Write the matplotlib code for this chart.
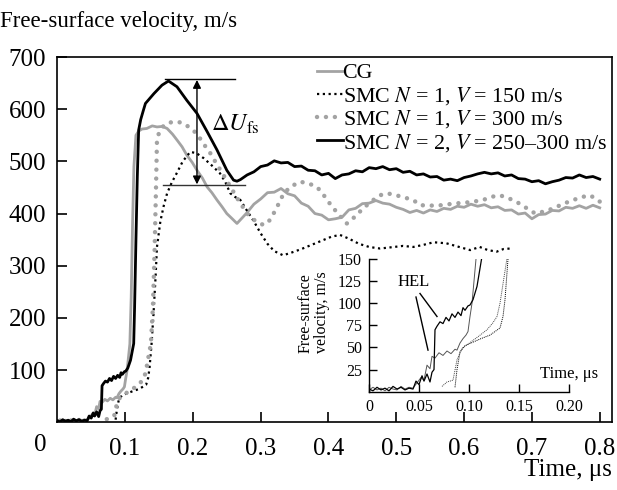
import matplotlib
matplotlib.use('Agg')
from matplotlib import pyplot as plt

plt.rcParams['font.family'] = ['Liberation Serif', 'DejaVu Serif']
plt.rcParams['mathtext.fontset'] = 'stix'

# CG (gray solid)
t_cg = [0, 0.004, 0.008, 0.012, 0.016, 0.02, 0.024, 0.028, 0.032, 0.036, 0.04, 0.044,
        0.048, 0.052, 0.055, 0.058, 0.061, 0.063, 0.066, 0.07, 0.074, 0.078, 0.082, 0.086,
        0.088, 0.091, 0.094, 0.097, 0.099, 0.101, 0.103, 0.105, 0.107, 0.109, 0.111, 0.113,
        0.116, 0.12, 0.125, 0.132, 0.14, 0.147, 0.155, 0.162, 0.17, 0.1765, 0.184, 0.191,
        0.199, 0.206, 0.214, 0.221, 0.228, 0.2355, 0.243, 0.25, 0.258, 0.265, 0.27,
        0.28, 0.29, 0.30, 0.31, 0.32, 0.33, 0.34, 0.35, 0.36, 0.37, 0.38, 0.39, 0.40,
        0.41, 0.42, 0.43, 0.44, 0.45, 0.46, 0.47, 0.48, 0.49, 0.50, 0.51, 0.52, 0.53,
        0.54, 0.55, 0.56, 0.57, 0.58, 0.59, 0.60, 0.61, 0.62, 0.63, 0.64, 0.65, 0.66,
        0.67, 0.68, 0.69, 0.70, 0.71, 0.72, 0.73, 0.74, 0.75, 0.76, 0.77, 0.78, 0.79, 0.80]
v_cg = [2, 5, 2, 4, 1, 5, 3, 2, 6, 3, 5, 4,
        10, 16, 13, 30, 26, 40, 38, 44, 41, 46, 43, 48,
        47, 55, 60, 64, 68, 85, 100, 125, 150, 240, 380, 490,
        550, 558, 562, 563, 568, 566, 567, 563, 552, 541, 528, 512,
        498, 483, 468, 451, 440, 426, 413, 400, 390, 381, 388,
        402, 418, 428, 440, 441, 448, 438, 434, 420, 414, 400, 397, 388,
        390, 393, 407, 410, 419, 420, 425, 420, 418, 412, 408, 402, 406,
        401, 407, 404, 410, 408, 414, 412, 418, 414, 417, 411, 413, 406,
        407, 399, 401, 390, 398, 399, 406, 405, 412, 410, 415, 410, 416, 411]

# SMC N=1, V=150 (black dotted)
t_150 = [0.086, 0.088, 0.091, 0.096, 0.104, 0.112, 0.121, 0.131, 0.134, 0.136, 0.139,
         0.142, 0.145, 0.147, 0.152, 0.157, 0.162, 0.169, 0.176, 0.185, 0.196, 0.205,
         0.216, 0.228, 0.24, 0.248, 0.255, 0.262, 0.27, 0.28, 0.29, 0.30, 0.31, 0.32,
         0.333, 0.345, 0.36, 0.375, 0.39, 0.405, 0.417, 0.43, 0.445, 0.46, 0.476, 0.49,
         0.51, 0.525, 0.54, 0.555, 0.574, 0.59, 0.609, 0.623, 0.635, 0.648, 0.658, 0.668]
v_150 = [5, 25, 45, 52, 56, 60, 64, 72, 85, 104, 150,
         210, 280, 336, 385, 415, 439, 460, 477, 500, 518, 516,
         506, 492, 477, 460, 439, 432, 426, 405, 385, 362, 342, 328,
         320, 325, 332, 340, 348, 356, 359, 352, 342, 336, 333, 335,
         338, 336, 340, 345, 343, 337, 330, 336, 330, 327, 332, 333]

# SMC N=1, V=300 (gray dotted)
t_300 = [0.073, 0.078, 0.084, 0.088, 0.093, 0.098, 0.104, 0.11, 0.118, 0.124, 0.128,
         0.131, 0.134, 0.138, 0.141, 0.1435, 0.1456, 0.147, 0.1496, 0.157, 0.165, 0.172,
         0.18, 0.186, 0.195, 0.206, 0.215, 0.226, 0.235, 0.245, 0.255, 0.267, 0.28,
         0.29, 0.304, 0.312, 0.319, 0.327, 0.334, 0.345, 0.358, 0.37, 0.383, 0.392,
         0.402, 0.415, 0.427, 0.44, 0.451, 0.465, 0.476, 0.486, 0.50, 0.525, 0.535,
         0.56, 0.584, 0.61, 0.628, 0.64, 0.653, 0.668, 0.682, 0.695, 0.705, 0.718,
         0.732, 0.745, 0.761, 0.775, 0.786, 0.80]
v_300 = [6, 11, 13, 36, 49, 53, 58, 63, 70, 78, 85,
         100, 122, 151, 220, 330, 450, 540, 553, 569, 574, 576,
         575, 573, 565, 553, 535, 515, 495, 474, 452, 426, 400,
         388, 378, 385, 400, 420, 439, 452, 461, 458, 451, 437,
         419, 398, 381, 395, 410, 425, 435, 439, 435, 426, 416,
         415, 419, 422, 426, 432, 435, 428, 419, 408, 400, 404,
         410, 418, 426, 432, 435, 423]

# SMC N=2, V=250-300 (black solid)
t_n2 = [0, 0.004, 0.008, 0.012, 0.016, 0.02, 0.024, 0.028, 0.032, 0.036, 0.040, 0.044,
        0.047, 0.050, 0.053, 0.055, 0.058, 0.061, 0.063, 0.065, 0.066, 0.068, 0.071,
        0.074, 0.077, 0.080, 0.083, 0.086, 0.089, 0.092, 0.094, 0.096, 0.099, 0.101,
        0.104, 0.108, 0.1127, 0.114, 0.116, 0.118, 0.120, 0.123, 0.127, 0.13, 0.1426,
        0.1544, 0.164, 0.1765, 0.191, 0.206, 0.221, 0.2355, 0.25, 0.26, 0.265,
        0.27, 0.28, 0.29, 0.30, 0.31, 0.32, 0.33, 0.34, 0.35, 0.36, 0.37, 0.38, 0.39,
        0.40, 0.41, 0.42, 0.43, 0.44, 0.45, 0.46, 0.47, 0.48, 0.49, 0.50, 0.51, 0.52,
        0.53, 0.54, 0.55, 0.56, 0.57, 0.58, 0.59, 0.60, 0.61, 0.62, 0.63, 0.64, 0.65,
        0.66, 0.67, 0.68, 0.69, 0.70, 0.71, 0.72, 0.73, 0.74, 0.75, 0.76, 0.77, 0.78,
        0.79, 0.80]
v_n2 = [3, 1, 5, 2, 4, 1, 6, 3, 5, 2, 4, 3,
        12, 8, 18, 12, 20, 11, 22, 25, 70, 74, 79,
        77, 84, 80, 88, 84, 90, 86, 95, 92, 97, 98,
        104, 119, 151, 220, 350, 470, 560, 580, 598, 611, 630,
        646, 654, 643, 617, 592, 557, 522, 483, 464, 462,
        465, 474, 480, 490, 493, 501, 497, 498, 490, 491, 483, 482, 474,
        477, 467, 474, 476, 482, 480, 488, 486, 490, 484, 486, 479, 481,
        474, 476, 470, 471, 464, 466, 463, 469, 472, 476, 479, 476, 478,
        472, 474, 467, 466, 461, 463, 457, 461, 464, 469, 468, 474, 469,
        471, 466]

labels = ['CG',
          'SMC $N$ = 1, $V$ = 150 m/s',
          'SMC $N$ = 1, $V$ = 300 m/s',
          'SMC $N$ = 2, $V$ = 250\u2013300 m/s']

gray = '#a3a3a3'
fs = 16.5
lfs = 15.8
tfs = 18

fig = plt.figure(figsize=(6.17, 4.9), dpi=100)
ax = fig.add_axes([57.3 / 617, 1 - 422.3 / 490, 554.4 / 617, 365.3 / 490])

ax.plot(t_cg, v_cg, color=gray, lw=2, label=labels[0])
ax.plot(t_150, v_150, color='black', lw=1.6, linestyle=(0, (1, 1.6)), label=labels[1])
ax.plot(t_300, v_300, color=gray, lw=3.2, linestyle=(0, (0.01, 2.0)),
        dash_capstyle='round', label=labels[2])
ax.plot(t_n2, v_n2, color='black', lw=2, label=labels[3])

ax.set_xlim(0, 0.8177)
ax.set_ylim(0, 700)
ax.set_xticks([0.1, 0.2, 0.3, 0.4, 0.5, 0.6, 0.7, 0.8])
ax.set_xticklabels(['0.1', '0.2', '0.3', '0.4', '0.5', '0.6', '0.7', '0.8'])
ax.set_yticks([100, 200, 300, 400, 500, 600, 700])
ax.tick_params(direction='in', length=7, width=1.2, labelsize=tfs)
ax.tick_params(axis='x', pad=11)
ax.tick_params(axis='y', pad=8)
for s in ax.spines.values():
    s.set_linewidth(1.2)

fig.text(40 / 617, 1 - 445 / 490, '0', ha='center', va='center', fontsize=tfs)
fig.text(0.0, 1 - 22 / 490, 'Free-surface velocity, m/s', ha='left', va='center', fontsize=fs)
fig.text(612 / 617, 1 - 470 / 490, 'Time, \u03bcs', ha='right', va='center', fontsize=tfs)

leg = ax.legend(loc='upper left', bbox_to_anchor=(0.465, 0.99), frameon=False,
                fontsize=lfs, handlelength=1.15, handletextpad=0.0,
                borderaxespad=0, borderpad=0.1, labelspacing=0.07)

# delta U annotation
ax.plot([0.159, 0.262], [657, 657], color='black', lw=1)
ax.plot([0.156, 0.277], [455, 455], color='#333333', lw=1)
ax.annotate('', xy=(0.206, 656), xytext=(0.206, 456),
            arrowprops=dict(arrowstyle='<|-|>', color='black', lw=1, mutation_scale=12,
                            shrinkA=0, shrinkB=0))
ax.text(0.226, 570, r'$\Delta U_{\rm fs}$', fontsize=fs + 1, ha='left', va='center')

# inset
ins = fig.add_axes([369 / 617, 1 - 391.7 / 490, 200 / 617, 132.7 / 490])
ins.patch.set_alpha(0)
ins.plot(t_cg, v_cg, color='#555555', lw=0.7)
ins.plot(t_150, v_150, color='black', lw=0.7, linestyle=(0, (1, 1)))
ins.plot(t_300, v_300, color='#444444', lw=0.7, linestyle=(0, (1, 1)))
ins.plot(t_n2, v_n2, color='black', lw=0.9)
ins.set_xlim(0, 0.2)
ins.set_ylim(0, 150)
ins.set_xticks([0, 0.05, 0.1, 0.15, 0.2])
ins.set_xticklabels(['0', '0.05', '0.10', '0.15', '0.20'])
ins.set_yticks([25, 50, 75, 100, 125, 150])
ins.spines['top'].set_visible(False)
ins.spines['right'].set_visible(False)
for s in ins.spines.values():
    s.set_linewidth(1)
ins.tick_params(direction='in', length=6, width=1, labelsize=11.5, pad=5)
ins.text(0.229, 20, 'Time, \u03bcs', fontsize=12, ha='right', va='center')
ins.text(-0.275, 0.60, 'Free-surface\nvelocity, m/s', transform=ins.transAxes, rotation=90,
         fontsize=11.5, ha='center', va='center', multialignment='left', linespacing=1.0)
ins.text(0.029, 124, 'HEL', fontsize=12, ha='left', va='center')
ins.plot([0.047, 0.059], [107, 47], color='black', lw=1)
ins.plot([0.051, 0.068], [111, 85], color='black', lw=1)

fig.savefig('out.png', dpi=100)
